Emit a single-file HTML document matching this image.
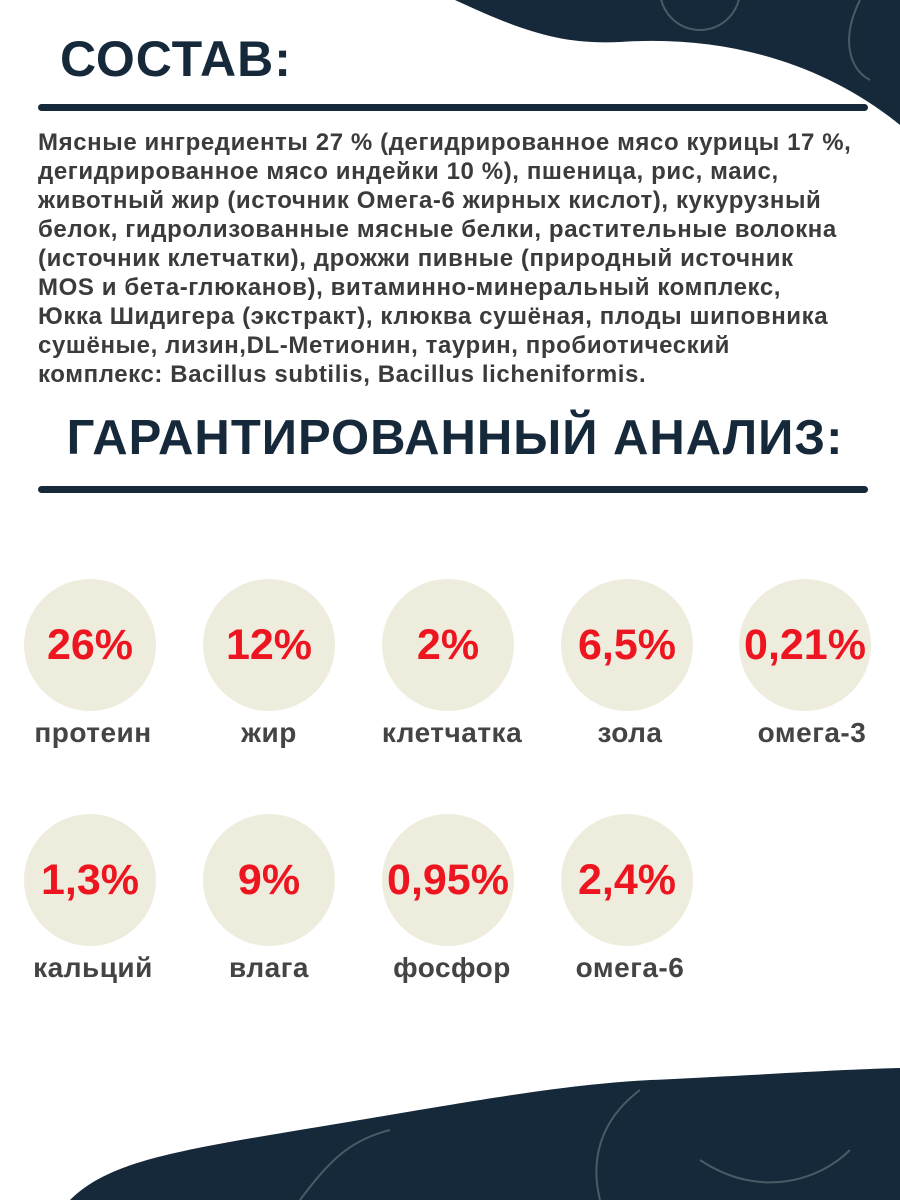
<!DOCTYPE html>
<html><head><meta charset="utf-8"><style>
*{margin:0;padding:0;box-sizing:border-box}
body{width:900px;height:1200px;background:#fff;position:relative;overflow:hidden;font-family:"Liberation Sans",sans-serif}
.h{position:absolute;color:#16293a;font-weight:900;letter-spacing:1px}
.line{position:absolute;left:38px;width:830px;height:7px;background:#16293a;border-radius:4px}
.txt{position:absolute;left:38px;top:128px;width:860px;font-size:24px;line-height:29px;font-weight:bold;color:#3b3b3b;letter-spacing:0.6px;white-space:nowrap}
.c{position:absolute;width:132px;height:132px;border-radius:50%;background:#eeecdc;display:flex;align-items:center;justify-content:center;color:#ec1520;font-weight:bold;font-size:43px;letter-spacing:0}
.l{position:absolute;width:180px;text-align:center;font-weight:bold;font-size:28px;color:#444;letter-spacing:0.5px}
</style></head><body>
<svg width="900" height="1200" style="position:absolute;left:0;top:0">
<path d="M455,0 C520,30 560,45 620,42 C720,35 820,60 900,125 L900,0 Z" fill="#16293a"/>
<path d="M70,1200 C110,1160 180,1150 330,1125 C480,1100 560,1085 650,1080 C760,1075 830,1070 900,1068 L900,1200 Z" fill="#16293a"/>
<g fill="none" stroke="#4a5b66" stroke-width="2">
<circle cx="700" cy="-10" r="40"/><path d="M860,0 C840,40 850,70 870,80"/>
<path d="M300,1200 C330,1160 350,1140 390,1130"/><path d="M600,1200 C590,1160 600,1120 640,1090"/>
<path d="M700,1160 C760,1200 820,1180 850,1150"/>
</g>
</svg>
<div class="h" style="left:60px;top:30px;font-size:50px">СОСТАВ:</div>
<div class="line" style="top:104px"></div>
<div class="txt">Мясные ингредиенты 27 % (дегидрированное мясо курицы 17 %,<br>дегидрированное мясо индейки 10 %), пшеница, рис, маис,<br>животный жир (источник Омега-6 жирных кислот), кукурузный<br>белок, гидролизованные мясные белки, растительные волокна<br>(источник клетчатки), дрожжи пивные (природный источник<br>MOS и бета-глюканов), витаминно-минеральный комплекс,<br>Юкка Шидигера (экстракт), клюква сушёная, плоды шиповника<br>сушёные, лизин,DL-Метионин, таурин, пробиотический<br>комплекс: Bacillus subtilis, Bacillus licheniformis.</div>
<div class="h" style="left:0;width:900px;text-align:center;top:410px;font-size:49px;padding-left:10px">ГАРАНТИРОВАННЫЙ АНАЛИЗ:</div>
<div class="line" style="top:486px"></div>

<div class="c" style="left:24px;top:579px">26%</div>
<div class="c" style="left:203px;top:579px">12%</div>
<div class="c" style="left:382px;top:579px">2%</div>
<div class="c" style="left:561px;top:579px">6,5%</div>
<div class="c" style="left:739px;top:579px">0,21%</div>
<div class="l" style="left:3px;top:717px">протеин</div>
<div class="l" style="left:179px;top:717px">жир</div>
<div class="l" style="left:362px;top:717px">клетчатка</div>
<div class="l" style="left:540px;top:717px">зола</div>
<div class="l" style="left:722px;top:717px">омега-3</div>

<div class="c" style="left:24px;top:814px">1,3%</div>
<div class="c" style="left:203px;top:814px">9%</div>
<div class="c" style="left:382px;top:814px">0,95%</div>
<div class="c" style="left:561px;top:814px">2,4%</div>
<div class="l" style="left:3px;top:952px">кальций</div>
<div class="l" style="left:179px;top:952px">влага</div>
<div class="l" style="left:362px;top:952px">фосфор</div>
<div class="l" style="left:540px;top:952px">омега-6</div>
</body></html>
